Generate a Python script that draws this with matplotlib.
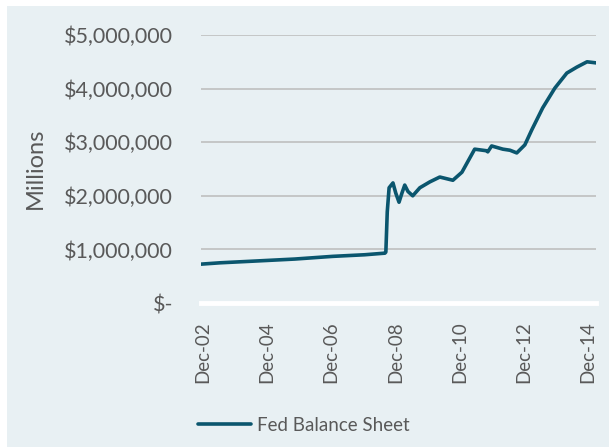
import numpy as np
import matplotlib
matplotlib.use("Agg")
import matplotlib.pyplot as plt
from matplotlib.patches import Rectangle
from matplotlib.ticker import FuncFormatter

# Fed balance sheet, millions of dollars
dates = ["2002-11-25", "2003-07-01", "2004-07-01", "2005-10-27", "2007-01-01",
         "2008-01-01", "2008-08-18", "2008-08-29", "2008-09-14", "2008-10-05",
         "2008-11-18", "2008-12-20", "2009-01-26", "2009-02-28", "2009-04-01",
         "2009-05-08", "2009-07-01", "2009-09-20", "2010-01-12", "2010-05-05",
         "2010-10-01", "2011-01-12", "2011-06-06", "2011-10-22", "2011-11-02",
         "2011-12-16", "2012-04-22", "2012-07-12", "2012-09-27", "2012-12-28",
         "2013-03-17", "2013-07-19", "2013-12-05", "2014-04-20", "2014-08-11",
         "2014-12-06", "2015-03-18"]
balance = [725000, 750000, 780000, 820000, 870000,
           900000, 930000, 950000, 1700000, 2150000,
           2240000, 2050000, 1880000, 2050000, 2200000,
           2080000, 2000000, 2150000, 2260000, 2350000,
           2290000, 2440000, 2870000, 2840000, 2820000,
           2930000, 2870000, 2850000, 2800000, 2950000,
           3230000, 3640000, 4010000, 4290000, 4400000,
           4500000, 4480000]
series_name = "Fed Balance Sheet"
tick_dates = ["2002-12-15", "2004-12-15", "2006-12-15", "2008-12-15",
              "2010-12-15", "2012-12-15", "2014-12-15"]
tick_labels = ["Dec-02", "Dec-04", "Dec-06", "Dec-08", "Dec-10", "Dec-12", "Dec-14"]
y_ticks = [0, 1000000, 2000000, 3000000, 4000000, 5000000]

x = np.array(dates, dtype="datetime64[D]").astype("O")
xt = np.array(tick_dates, dtype="datetime64[D]").astype("O")

W, H = 609, 448
bg = "#E8F0F3"
txt = "#595959"
line_c = "#0B566E"

plt.rcParams["font.family"] = ["Lato", "DejaVu Sans"]

fig = plt.figure(figsize=(W / 100, H / 100), dpi=100)
fig.patch.set_facecolor("white")
panel = Rectangle((7 / W, 1 / H), 1 - 7 / W, 441 / H,
                  transform=fig.transFigure, facecolor=bg,
                  edgecolor="none", zorder=-5)
fig.add_artist(panel)

ax = fig.add_axes([201 / W, 1 - 303 / H, 395 / W, 268 / H])
ax.set_facecolor("none")
ax.plot(x, balance, color=line_c, lw=2.6, solid_joinstyle="round",
        solid_capstyle="round", label=series_name, zorder=3)

ax.set_xlim(x[0], x[-1])
ax.set_ylim(0, 5000000)
ax.set_yticks(y_ticks)
ax.yaxis.set_major_formatter(FuncFormatter(
    lambda v, p: "$-" if v == 0 else "${:,.0f}".format(v)))
ax.set_xticks(xt)
ax.set_xticklabels(tick_labels, rotation=90)
ax.grid(axis="y", color="#BFBFBF", lw=1.2)
ax.set_axisbelow(True)
for s in ["top", "right", "left"]:
    ax.spines[s].set_visible(False)
ax.spines["bottom"].set_color("white")
ax.spines["bottom"].set_linewidth(3.5)
ax.spines["bottom"].set_zorder(2)
ax.tick_params(axis="both", length=0, colors=txt)
ax.tick_params(axis="y", pad=20, labelsize=15.5)
ax.tick_params(axis="x", pad=13, labelsize=13.5)

fig.text(35 / W, 1 - 168 / H, "Millions", rotation=90, ha="center",
         va="center", fontsize=17, color=txt)

leg = ax.legend(loc="center left", bbox_to_anchor=(198 / W, 1 - 425 / H),
                bbox_transform=fig.transFigure, frameon=False, borderpad=0,
                borderaxespad=0, handlelength=2.85, handletextpad=0.3,
                fontsize=13.5)
for t in leg.get_texts():
    t.set_color(txt)

fig.savefig("out.png", dpi=100, facecolor=fig.get_facecolor())
